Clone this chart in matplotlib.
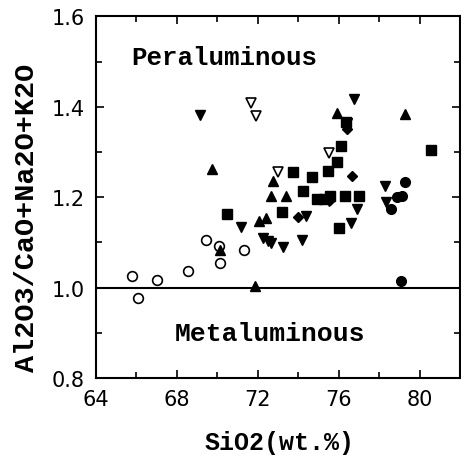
import matplotlib
matplotlib.use("Agg")
import matplotlib.pyplot as plt
from matplotlib.ticker import MultipleLocator

# Data (SiO2 wt.%, A/CNK)
open_circle_x = [65.76, 66.09, 67.03, 68.56, 69.42, 70.07, 70.14, 71.31]
open_circle_y = [1.026, 0.977, 1.017, 1.036, 1.105, 1.093, 1.054, 1.084]

open_dtri_x = [71.67, 71.93, 73.00, 75.50]
open_dtri_y = [1.408, 1.379, 1.256, 1.297]

tri_x = [69.74, 70.14, 71.88, 72.05, 72.38, 72.74, 72.63, 73.37, 75.92, 79.29]
tri_y = [1.262, 1.084, 1.004, 1.148, 1.154, 1.237, 1.203, 1.203, 1.386, 1.384]

dtri_x = [69.14, 71.18, 72.26, 72.50, 72.63, 73.24, 74.18, 74.40, 75.50,
          76.74, 76.40, 78.30, 78.33, 76.90, 76.58]
dtri_y = [1.382, 1.135, 1.109, 1.104, 1.098, 1.089, 1.106, 1.159, 1.192,
          1.417, 1.365, 1.226, 1.190, 1.174, 1.144]

sq_x = [70.45, 73.20, 73.76, 74.65, 74.22, 74.93, 75.25, 75.58, 75.47, 75.92,
        76.13, 76.00, 76.33, 76.99, 76.36, 80.56]
sq_y = [1.164, 1.167, 1.255, 1.244, 1.214, 1.196, 1.196, 1.203, 1.259, 1.277,
        1.314, 1.133, 1.203, 1.203, 1.366, 1.304]

dia_x = [76.66, 73.99, 76.41, 75.55]
dia_y = [1.248, 1.157, 1.351, 1.195]

circ_x = [79.26, 79.13, 78.90, 78.60, 79.09]
circ_y = [1.234, 1.203, 1.201, 1.174, 1.015]

xticks = [64, 68, 72, 76, 80]
yticks = [0.8, 1.0, 1.2, 1.4, 1.6]

fig = plt.figure(figsize=(4.61, 4.60), dpi=100)
ax = fig.add_axes([0.2083, 0.176, 0.790, 0.786])

ms = 7
ax.plot(open_circle_x, open_circle_y, 'o', mfc='white', mec='black', mew=1.2, ms=ms, ls='none')
ax.plot(open_dtri_x, open_dtri_y, 'v', mfc='white', mec='black', mew=1.2, ms=ms, ls='none')
ax.plot(tri_x, tri_y, '^', color='black', ms=ms, ls='none')
ax.plot(dtri_x, dtri_y, 'v', color='black', ms=ms, ls='none')
ax.plot(sq_x, sq_y, 's', color='black', ms=6.5, ls='none')
ax.plot(dia_x, dia_y, 'D', color='black', ms=5.5, ls='none')
ax.plot(circ_x, circ_y, 'o', color='black', ms=ms, ls='none')

ax.axhline(1.0, color='black', lw=1.5)

ax.set_xlim(64, 82)
ax.set_ylim(0.8, 1.6)
ax.set_xticks(xticks)
ax.set_yticks(yticks)
ax.set_yticklabels([f"{v:.1f}" for v in yticks])
ax.xaxis.set_minor_locator(MultipleLocator(2))
ax.yaxis.set_minor_locator(MultipleLocator(0.1))
ax.tick_params(which='both', direction='in', top=True, right=True, width=1.2)
ax.tick_params(which='major', length=6, labelsize=15, pad=8)
ax.tick_params(which='minor', length=4)
for s in ax.spines.values():
    s.set_linewidth(1.5)

lab_font = dict(family="Liberation Mono", fontweight='bold')
ax.set_xlabel("SiO2(wt.%)", fontsize=18, va='center', **lab_font)
ax.xaxis.set_label_coords(0.503, -0.177)
ax.set_ylabel("Al2O3/CaO+Na2O+K2O", fontsize=20.5, va='center', **lab_font)
ax.yaxis.set_label_coords(-0.19, 0.445)

ax.text(65.73, 1.51, "Peraluminous", fontsize=18.5, ha='left', va='center', **lab_font)
ax.text(67.9, 0.899, "Metaluminous", fontsize=19, ha='left', va='center', **lab_font)

fig.savefig("out.png", dpi=100)
